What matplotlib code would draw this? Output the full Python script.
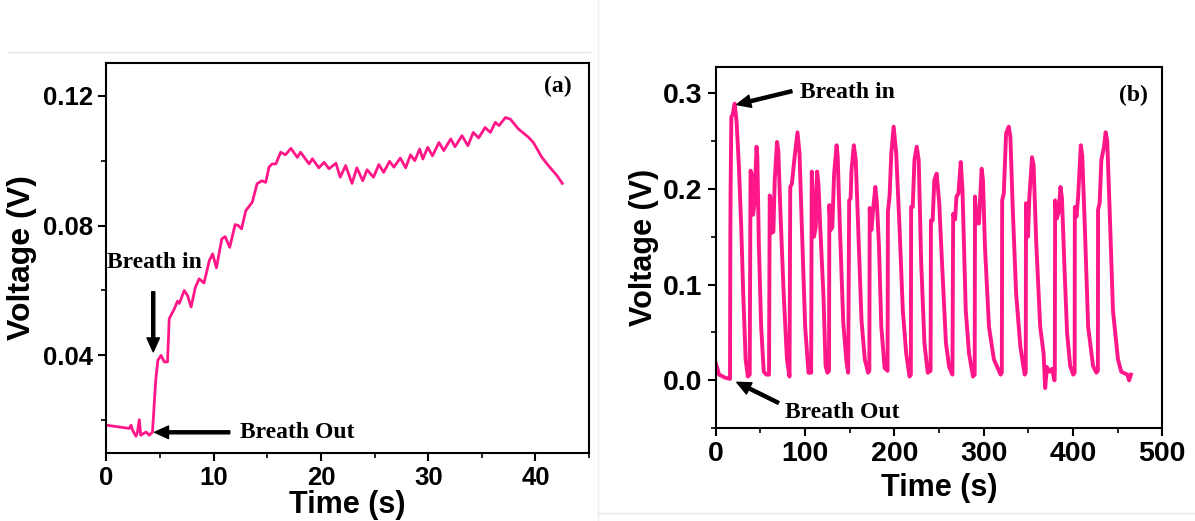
import matplotlib
matplotlib.use("Agg")
import matplotlib.pyplot as plt
from matplotlib.lines import Line2D
from matplotlib.ticker import MultipleLocator, FormatStrFormatter

# panel (a): single breath, slow response
time_a = [0, 2.14, 2.3, 2.45, 2.76, 2.9, 3.07, 3.2, 3.7, 4.0, 4.3, 4.6, 4.8, 5.1, 5.4, 5.7,
          5.86, 6.33, 6.63, 6.8, 7.26, 7.56, 7.9, 8.3, 8.65, 9.1, 9.6, 9.9, 10.26, 10.76,
          11.07, 11.5, 12.0, 12.3, 12.6, 13.0, 13.6, 14.05, 14.5, 14.85, 15.16, 15.45, 15.8,
          16.25, 16.7, 17.2, 17.8, 18.1, 18.9, 19.2, 19.8, 20.3, 20.75, 21.4, 21.8, 22.3,
          22.9, 23.35, 23.9, 24.3, 24.9, 25.4, 25.85, 26.4, 26.8, 27.4, 27.9, 28.35, 28.75,
          29.2, 29.5, 29.95, 30.4, 31.0, 31.45, 32.1, 32.5, 33.15, 33.7, 34.2, 34.7, 35.3,
          35.8, 36.25, 36.6, 37.2, 37.65, 38.4, 39.35, 39.8, 40.6, 41.2, 42.0, 42.5]
volt_a = [0.0185, 0.0175, 0.0185, 0.0169, 0.0151, 0.0164, 0.0202, 0.0154, 0.0164, 0.0154,
          0.0164, 0.0323, 0.0385, 0.0400, 0.0380, 0.0380, 0.0513, 0.0543, 0.0567, 0.0560,
          0.0600, 0.0585, 0.0549, 0.0610, 0.0636, 0.0623, 0.0692, 0.0713, 0.0670, 0.0759,
          0.0766, 0.0733, 0.0803, 0.0800, 0.0790, 0.0846, 0.0872, 0.0929, 0.0938, 0.0933,
          0.0980, 0.0990, 0.0990, 0.1026, 0.1018, 0.1038, 0.1010, 0.1026, 0.0990, 0.1006,
          0.0978, 0.0995, 0.0975, 0.0992, 0.0949, 0.0985, 0.0930, 0.0978, 0.0938, 0.0972,
          0.0949, 0.0988, 0.0964, 0.0998, 0.0980, 0.1008, 0.0978, 0.1018, 0.1000, 0.1036,
          0.1005, 0.1041, 0.1015, 0.1056, 0.1031, 0.1067, 0.1043, 0.1077, 0.1046, 0.1087,
          0.1070, 0.1102, 0.1087, 0.1118, 0.1108, 0.1133, 0.1128, 0.1098, 0.1072, 0.1056,
          0.1010, 0.0985, 0.0954, 0.0930]

# panel (b): repeated breathing cycles
time_b = [0, 3.7, 10, 15.9, 16.3, 16.6, 17.4, 19, 21.1, 23.3, 25.9, 28.5, 30.7, 33.4, 35.9,
          38.0, 38.9, 40.3, 41.8, 43.3, 45.6, 46.5, 48.2, 50.8, 53.7, 56.7,
          59.6, 60.4, 61.2, 62.3, 64.5, 66.0, 68.6, 70.0, 72.3, 76.0, 79.7, 82.6,
          83.4, 85.2, 87.9, 91.5, 93.8, 96.4, 100.1, 103.8,
          106.8, 107.5, 108.5, 110.0, 112.0, 113.5, 115.0, 117.0, 120.5, 123.0, 125.0,
          126.8, 127.2, 128.7, 130.5, 132.5, 135.3, 136.5, 139.0, 142.8, 146.5, 148.3,
          149.4, 151.0, 152.0, 154.6, 156.8, 159.5, 163.2, 166.9, 170.6,
          172.0, 172.4, 174.3, 176.2, 178.7, 180.5, 182.8, 185.4, 189.1,
          192.4, 192.8, 194.7, 196.6, 199.2, 202.1, 205.8, 209.5, 213.3, 217.0,
          218.5, 218.8, 220.6, 222.5, 225.1, 227.3, 230.0, 233.7, 237.4,
          240.6, 241.0, 242.9, 244.8, 247.4, 250.3, 253.3, 257.8, 261.4, 265.1,
          265.9, 268.1, 269.6, 271.8, 274.4, 276.3, 278.1, 280.0, 283.7, 288.1,
          290.0, 290.4, 292.2, 294.8, 297.8, 299.3, 301.5, 306.0, 311.5, 319.0,
          320.4, 320.8, 322.6, 325.2, 328.2, 330.0, 332.7, 336.4, 341.2, 346.0,
          347.2, 347.5, 349.7, 351.2, 354.2, 356.0, 359.0, 363.4, 367.2, 369.0, 370.9,
          373.5, 376.5, 379.4,
          379.8, 380.1, 382.0, 383.9, 386.1, 387.8, 390.5, 393.5, 397.0, 400.4,
          402.0, 402.2, 404.1, 405.9, 408.9, 410.5, 413.4, 417.1, 422.6, 426.4,
          428.0, 428.2, 430.0, 431.9, 434.9, 436.7, 438.5, 441.2, 444.9, 450.5, 454.2,
          461.0, 463.0, 465.0]
volt_b = [0.018, 0.006, 0.003, 0.0015, 0.150, 0.202, 0.275, 0.278, 0.289, 0.270, 0.223,
          0.160, 0.091, 0.022, 0.004,
          0.006, 0.219, 0.215, 0.173, 0.185, 0.244, 0.235, 0.143, 0.056, 0.009, 0.006,
          0.006, 0.193, 0.190, 0.154, 0.155, 0.209, 0.249, 0.240, 0.178, 0.091, 0.022, 0.004,
          0.202, 0.205, 0.230, 0.259, 0.237, 0.160, 0.056, 0.008,
          0.008, 0.218, 0.200, 0.150, 0.160, 0.218, 0.205, 0.160, 0.090, 0.015, 0.008,
          0.010, 0.183, 0.157, 0.160, 0.215, 0.2455, 0.235, 0.160, 0.060, 0.018, 0.008,
          0.188, 0.190, 0.219, 0.2455, 0.230, 0.160, 0.063, 0.022, 0.008,
          0.010, 0.180, 0.157, 0.178, 0.202, 0.185, 0.140, 0.056, 0.013,
          0.010, 0.176, 0.193, 0.237, 0.265, 0.237, 0.160, 0.073, 0.028, 0.004,
          0.006, 0.181, 0.181, 0.230, 0.244, 0.230, 0.125, 0.039, 0.008,
          0.010, 0.167, 0.167, 0.209, 0.216, 0.185, 0.125, 0.039, 0.014, 0.006,
          0.174, 0.168, 0.192, 0.195, 0.228, 0.200, 0.140, 0.073, 0.028, 0.004,
          0.006, 0.192, 0.164, 0.164, 0.221, 0.209, 0.140, 0.056, 0.022, 0.006,
          0.008, 0.188, 0.195, 0.258, 0.265, 0.254, 0.178, 0.091, 0.035, 0.006,
          0.008, 0.185, 0.150, 0.190, 0.233, 0.225, 0.143, 0.056, 0.028, -0.008, 0.014,
          0.009, 0.012, 0.000,
          0.010, 0.188, 0.169, 0.175, 0.202, 0.190, 0.120, 0.050, 0.015, 0.006,
          0.008, 0.181, 0.171, 0.192, 0.2455, 0.235, 0.160, 0.056, 0.015, 0.008,
          0.010, 0.178, 0.185, 0.230, 0.244, 0.259, 0.250, 0.178, 0.073, 0.022, 0.009,
          0.006, 0.000, 0.006]

pink = "#ff1688"
sans = ["Liberation Sans", "DejaVu Sans"]
serif = ["Liberation Serif", "DejaVu Serif"]

fig = plt.figure(figsize=(11.95, 5.21), dpi=100)
ax1 = fig.add_axes([0.089, 0.131, 0.404, 0.7475])
ax2 = fig.add_axes([0.599, 0.178, 0.3735, 0.693])

ax1.plot(time_a, volt_a, color=pink, lw=2.0)
ax2.plot(time_b, volt_b, color=pink, lw=2.8)

ax1.set_xlim(0, 45)
ax1.set_ylim(0.01, 0.13)
ax1.xaxis.set_major_locator(MultipleLocator(10))
ax1.xaxis.set_minor_locator(MultipleLocator(5))
ax1.yaxis.set_major_locator(MultipleLocator(0.04))
ax1.yaxis.set_minor_locator(MultipleLocator(0.02))
ax1.yaxis.set_major_formatter(FormatStrFormatter("%.2f"))

ax2.set_xlim(0, 500)
ax2.set_ylim(-0.05, 0.327)
ax2.xaxis.set_major_locator(MultipleLocator(100))
ax2.xaxis.set_minor_locator(MultipleLocator(50))
ax2.yaxis.set_major_locator(MultipleLocator(0.1))
ax2.yaxis.set_minor_locator(MultipleLocator(0.05))
ax2.yaxis.set_major_formatter(FormatStrFormatter("%.1f"))

for ax, tsize in [(ax1, 18.5), (ax2, 20.5)]:
    for s in ax.spines.values():
        s.set_linewidth(1.5)
    ax.tick_params(which="major", direction="out", length=6, width=1.5, labelsize=tsize)
    ax.tick_params(which="minor", direction="out", length=3.5, width=1.2)
    for lab in ax.get_xticklabels() + ax.get_yticklabels():
        lab.set_family(sans)
        lab.set_fontweight("bold")

ax1.set_xlabel("Time (s)", family=sans, fontsize=22, fontweight="bold", labelpad=0)
ax1.set_ylabel("Voltage (V)", family=sans, fontsize=23, fontweight="bold", labelpad=4)
ax2.set_xlabel("Time (s)", family=sans, fontsize=22, fontweight="bold", labelpad=4)
ax2.set_ylabel("Voltage (V)", family=sans, fontsize=22, fontweight="bold", labelpad=3)

arrow = dict(facecolor="black", edgecolor="black", width=2.2, headwidth=9, headlength=10, shrink=0)

ax1.text(0.1, 0.0685, "Breath in", family=serif, fontsize=17, fontweight="bold", va="center")
ax1.annotate("", xy=(4.37, 0.0411), xytext=(4.37, 0.0596), arrowprops=arrow)
ax1.text(12.45, 0.0161, "Breath Out", family=serif, fontsize=17, fontweight="bold", va="center")
ax1.annotate("", xy=(4.5, 0.0163), xytext=(11.5, 0.0163), arrowprops=arrow)
ax1.text(0.935, 0.94, "(a)", transform=ax1.transAxes, family=serif, fontsize=17,
         fontweight="bold", ha="center", va="center")

ax2.text(94.5, 0.301, "Breath in", family=serif, fontsize=17, fontweight="bold", va="center")
ax2.annotate("", xy=(23.5, 0.288), xytext=(85.2, 0.302), arrowprops=arrow)
ax2.text(77.7, -0.034, "Breath Out", family=serif, fontsize=17, fontweight="bold", va="center")
ax2.annotate("", xy=(23.5, -0.002), xytext=(70.2, -0.0235), arrowprops=arrow)
ax2.text(0.936, 0.923, "(b)", transform=ax2.transAxes, family=serif, fontsize=17,
         fontweight="bold", ha="center", va="center")

# faint frame lines from the original composite
fig.add_artist(Line2D([0.007, 0.494], [0.9, 0.9], color="#e6e6e6", lw=1))
fig.add_artist(Line2D([0.5, 0.5], [0.0, 1.0], color="#eeeeee", lw=1))
fig.add_artist(Line2D([0.5, 1.0], [0.015, 0.015], color="#e6e6e6", lw=1))

fig.savefig("out.png", dpi=100)
